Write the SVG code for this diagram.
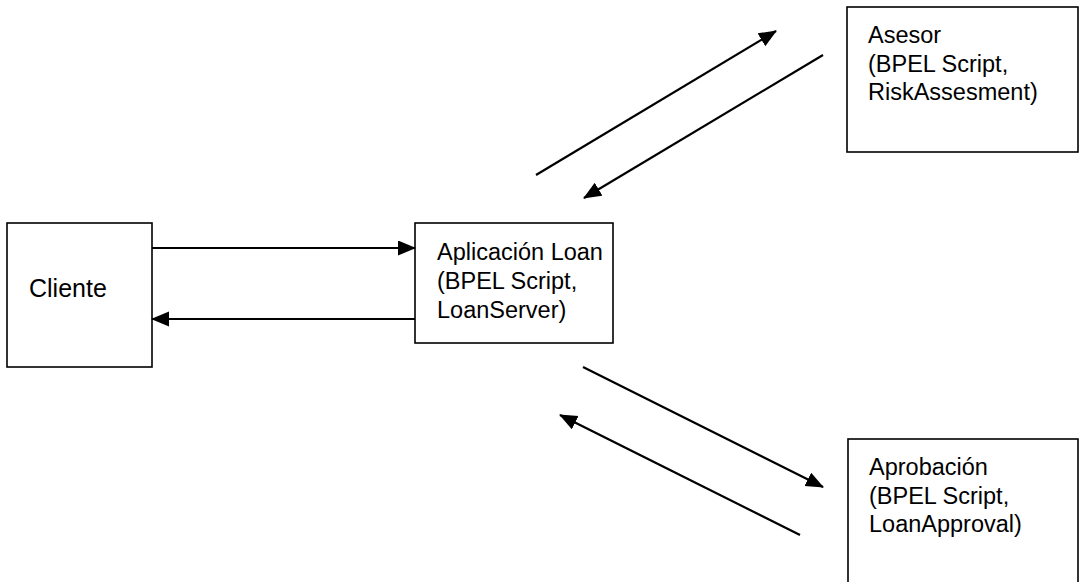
<svg xmlns="http://www.w3.org/2000/svg" width="1079" height="582" viewBox="0 0 1079 582">
<style>
.box{fill:#fff;stroke:#000;stroke-width:1.6}
.lbl{font-family:"Liberation Sans",Arial,sans-serif;font-size:23.5px;fill:#000}
.conn{stroke:#000;stroke-width:2.2;fill:none;marker-end:url(#ah)}
</style>
<defs>
<marker id="ah" markerUnits="userSpaceOnUse" markerWidth="20" markerHeight="16" refX="17" refY="7.5" orient="auto" viewBox="0 0 20 16">
<path d="M0,0 L18,7.5 L0,15 z" fill="#000"/>
</marker>
</defs>
<rect width="1079" height="582" fill="#fff"/>
<g id="cliente">
<rect class="box" x="7" y="223" width="145" height="144"/>
<text class="lbl" x="29" y="297" style="font-size:25px">Cliente</text>
</g>
<g id="aplicacion">
<rect class="box" x="415" y="223" width="198" height="120"/>
<text class="lbl" x="437" y="260">Aplicación Loan</text>
<text class="lbl" x="437" y="289">(BPEL Script,</text>
<text class="lbl" x="437" y="318">LoanServer)</text>
</g>
<g id="asesor">
<rect class="box" x="847" y="7" width="231" height="145"/>
<text class="lbl" x="868" y="43">Asesor</text>
<text class="lbl" x="868" y="72">(BPEL Script,</text>
<text class="lbl" x="868" y="100">RiskAssesment)</text>
</g>
<g id="aprobacion">
<rect class="box" x="848" y="439" width="230" height="160"/>
<text class="lbl" x="869" y="475">Aprobación</text>
<text class="lbl" x="869" y="504">(BPEL Script,</text>
<text class="lbl" x="869" y="532">LoanApproval)</text>
</g>
<g id="connectors">
<line class="conn" x1="152" y1="248" x2="415" y2="248"/>
<line class="conn" x1="415" y1="319" x2="152" y2="319"/>
<line class="conn" x1="536" y1="175" x2="776" y2="31"/>
<line class="conn" x1="823" y1="55" x2="584" y2="198"/>
<line class="conn" x1="583" y1="367" x2="823" y2="487"/>
<line class="conn" x1="800" y1="535" x2="560" y2="415"/>
</g>
</svg>
